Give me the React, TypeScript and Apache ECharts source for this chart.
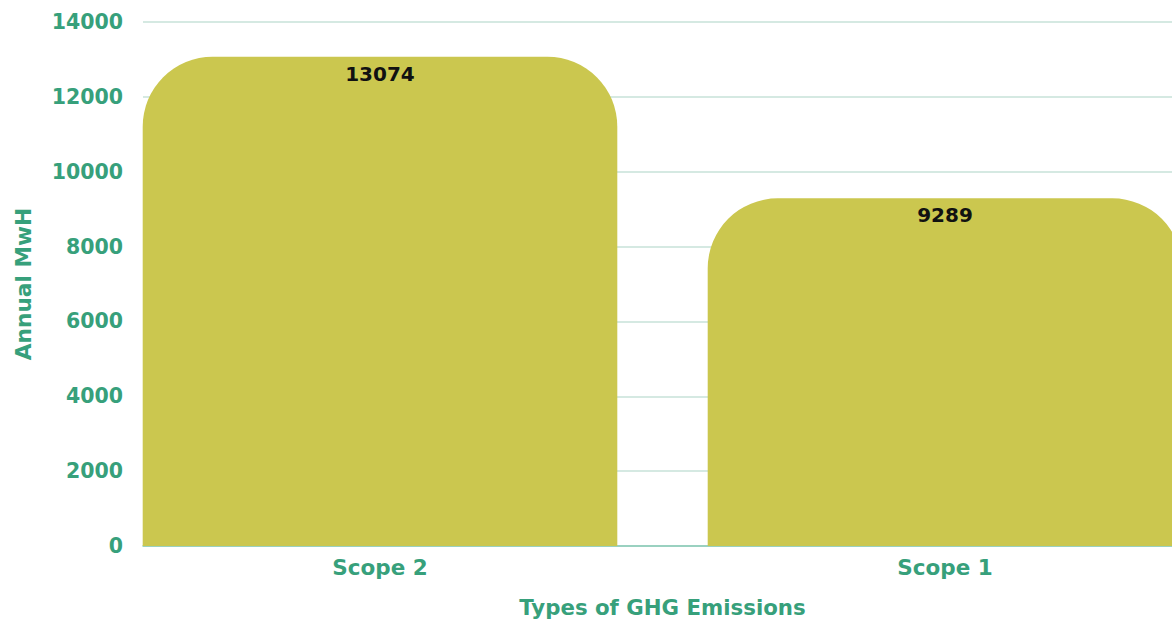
import React, { useEffect, useRef } from "react";
import * as echarts from "echarts";

const categories = ["Scope 2", "Scope 1"];
const values = [13074, 9289];
const yTicks = { min: 0, max: 14000, interval: 2000 };
const xAxisTitle = "Types of GHG Emissions";
const yAxisTitle = "Annual MwH";

const TEAL = "#37a07b";
const FONT = "'DejaVu Sans', sans-serif";

export default function App() {
  const ref = useRef<HTMLDivElement>(null);
  useEffect(() => {
    if (!ref.current) return;
    const chart = echarts.init(ref.current, null, { renderer: "svg" });
    chart.setOption({
      animation: false,
      backgroundColor: "#ffffff",
      grid: [
        { left: 143, right: 0, top: 22, bottom: 78 },
        { left: 97.5, width: 1130, top: 22, bottom: 78 },
      ],
      xAxis: [
        {
          type: "category",
          gridIndex: 1,
          data: categories,
          axisLine: { show: false },
          axisTick: { show: false },
          axisLabel: {
            color: TEAL,
            fontFamily: FONT,
            fontWeight: "bold",
            fontSize: 21.5,
            margin: 10,
          },
          name: xAxisTitle,
          nameLocation: "middle",
          nameGap: 51,
          nameTextStyle: {
            color: TEAL,
            fontFamily: FONT,
            fontWeight: "bold",
            fontSize: 21.3,
          },
        },
        {
          type: "category",
          gridIndex: 0,
          data: [""],
          axisLine: { show: true, lineStyle: { color: "#86c9b5", width: 1.5 } },
          axisTick: { show: false },
          axisLabel: { show: false },
        },
      ],
      yAxis: [
        {
          type: "value",
          gridIndex: 0,
          min: yTicks.min,
          max: yTicks.max,
          interval: yTicks.interval,
          axisLine: { show: false },
          axisTick: { show: false },
          splitLine: { show: true, lineStyle: { color: "#d5e9e2", width: 2 } },
          axisLabel: {
            color: TEAL,
            fontFamily: FONT,
            fontWeight: "bold",
            fontSize: 20.5,
            margin: 20,
            formatter: (v: number) => String(v),
          },
          name: yAxisTitle,
          nameLocation: "middle",
          nameGap: 109,
          nameTextStyle: {
            color: TEAL,
            fontFamily: FONT,
            fontWeight: "bold",
            fontSize: 21.7,
          },
        },
        {
          type: "value",
          gridIndex: 1,
          min: yTicks.min,
          max: yTicks.max,
          interval: yTicks.interval,
          show: false,
          splitLine: { show: false },
        },
      ],
      series: [
        {
          type: "bar",
          xAxisIndex: 0,
          yAxisIndex: 1,
          data: values,
          barCategoryGap: "16%",
          itemStyle: { color: "#cbc74f", borderRadius: [70, 70, 0, 0] },
          label: {
            show: true,
            position: "insideTop",
            distance: 7,
            color: "#111111",
            fontFamily: FONT,
            fontWeight: "bold",
            fontSize: 20,
          },
        },
      ],
    });
    return () => chart.dispose();
  }, []);
  return (
    <div
      style={{
        position: "absolute",
        left: 0,
        top: 0,
        width: 1172,
        height: 624,
        overflow: "hidden",
      }}
    >
      <div ref={ref} style={{ width: 1240, height: 624 }} />
    </div>
  );
}
